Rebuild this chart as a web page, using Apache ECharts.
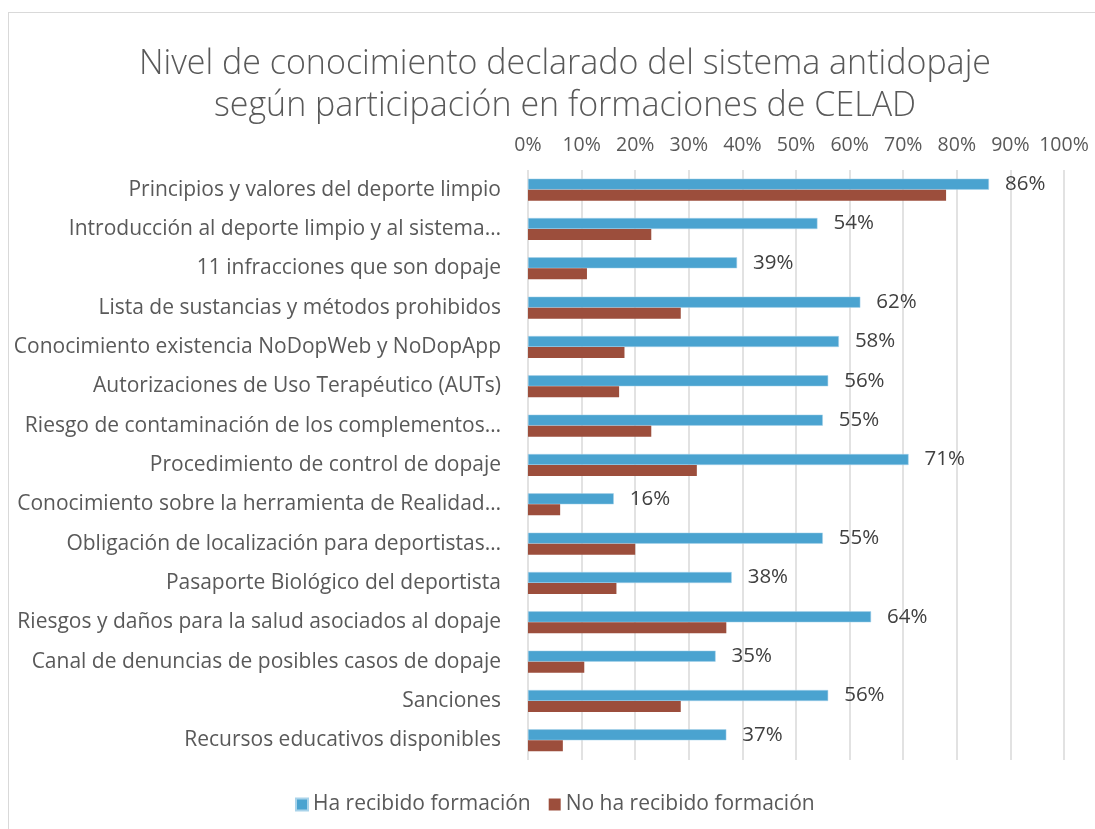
<!DOCTYPE html>
<html>
<head>
<meta charset="utf-8">
<script src="https://cdn.jsdelivr.net/npm/echarts@6/dist/echarts.min.js"></script>
<style>
html,body{margin:0;padding:0;background:#fff;}
#frame{position:absolute;left:8px;top:12px;width:1200px;height:900px;border-left:1.5px solid #d9d9d9;border-top:1.5px solid #d9d9d9;box-sizing:border-box;}
#chart{position:absolute;left:0;top:0;width:1095px;height:829px;}
</style>
</head>
<body>
<div id="frame"></div>
<div id="chart"></div>
<script>
const categories = [
  "Principios y valores del deporte limpio",
  "Introducción al deporte limpio y al sistema…",
  "11 infracciones que son dopaje",
  "Lista de sustancias y métodos prohibidos",
  "Conocimiento existencia NoDopWeb y NoDopApp",
  "Autorizaciones de Uso Terapéutico (AUTs)",
  "Riesgo de contaminación de los complementos…",
  "Procedimiento de control de dopaje",
  "Conocimiento sobre la herramienta de Realidad…",
  "Obligación de localización para deportistas…",
  "Pasaporte Biológico del deportista",
  "Riesgos y daños para la salud asociados al dopaje",
  "Canal de denuncias de posibles casos de dopaje",
  "Sanciones",
  "Recursos educativos disponibles"
];
const trained = [86, 54, 39, 62, 58, 56, 55, 71, 16, 55, 38, 64, 35, 56, 37];
const notTrained = [78, 23, 11, 28.5, 18, 17, 23, 31.5, 6, 20, 16.5, 37, 10.5, 28.5, 6.5];
const seriesNames = ["Ha recibido formación", "No ha recibido formación"];
const titleLines = ["Nivel de conocimiento declarado del sistema antidopaje", "según participación en formaciones de CELAD"];

const FONT = "'Open Sans', 'Noto Sans', sans-serif";
const chart = echarts.init(document.getElementById('chart'), null, {renderer: 'canvas'});
chart.setOption({
  animation: false,
  backgroundColor: 'transparent',
  title: {
    text: titleLines.join('\n'),
    left: 560,
    top: 38,
    textAlign: 'center',
    textStyle: {fontFamily: FONT, fontWeight: 300, fontSize: 34, color: '#595959', lineHeight: 42}
  },
  legend: {
    data: seriesNames,
    left: 290,
    top: 789,
    itemWidth: 12,
    itemHeight: 12,
    itemGap: 18,
    icon: 'rect',
    textStyle: {fontFamily: FONT, fontSize: 21, color: '#595959'}
  },
  grid: {left: 528, right: 31, top: 170, height: 590, containLabel: false},
  xAxis: {
    type: 'value',
    position: 'top',
    min: 0, max: 100, interval: 10,
    axisLine: {show: false},
    axisTick: {show: false},
    axisLabel: {formatter: '{value}%', fontFamily: FONT, fontSize: 19.5, color: '#595959', margin: 15},
    splitLine: {show: true, lineStyle: {color: '#d9d9d9', width: 1.5}}
  },
  yAxis: {
    type: 'category',
    data: categories,
    inverse: true,
    axisLine: {show: false},
    axisTick: {show: false},
    axisLabel: {fontFamily: FONT, fontSize: 21, color: '#595959', margin: 27}
  },
  series: [
    {
      name: seriesNames[0], type: 'bar', data: trained,
      barWidth: 11, barGap: '0%',
      itemStyle: {color: '#4aa3d0', borderColor: '#a9d3ea', borderWidth: 0.5},
      label: {show: true, position: 'right', distance: 16, formatter: '{c}%', fontFamily: FONT, fontSize: 20.5, color: '#404040'}
    },
    {
      name: seriesNames[1], type: 'bar', data: notTrained,
      barWidth: 11, barGap: '0%',
      itemStyle: {color: '#9c4e3c'}
    }
  ]
});
</script>
</body>
</html>
